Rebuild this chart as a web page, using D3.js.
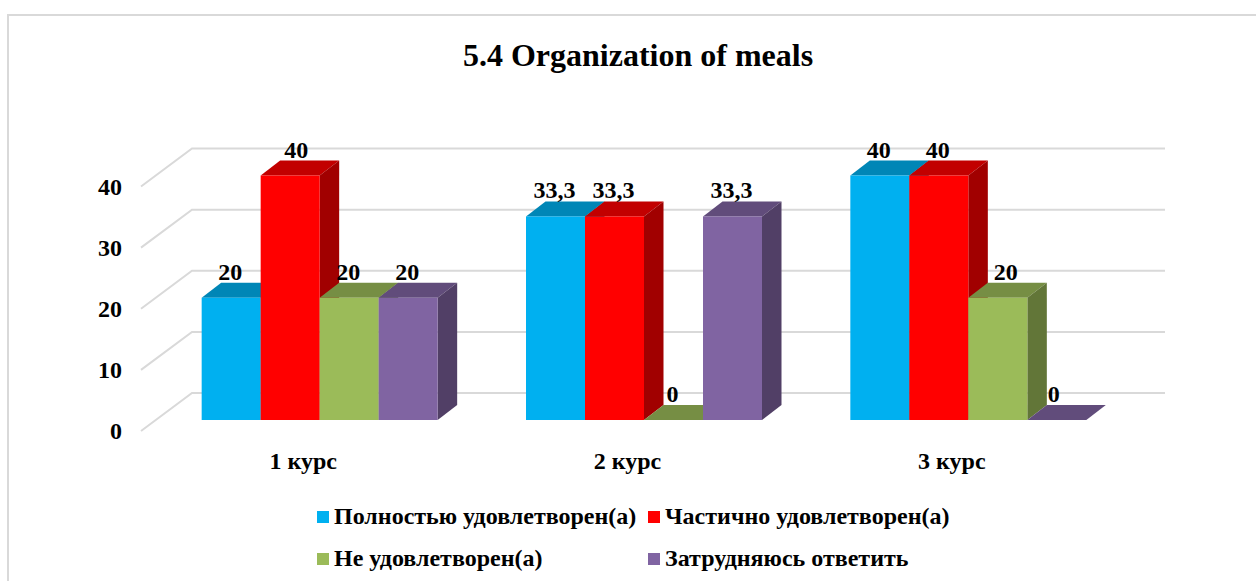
<!DOCTYPE html>
<meta charset="utf-8">
<style>
  body { margin: 0; background: #fff; }
  svg { display: block; }
  text { font-family: "Liberation Serif", serif; font-weight: bold; fill: #000; }
  .grid { fill: none; stroke: #d9d9d9; stroke-width: 2px; }
</style>

<body>
  <script src="https://cdn.jsdelivr.net/npm/d3@7"></script>
  <script>
    const titleText = "5.4 Organization of meals"
    const categories = ["1 курс", "2 курс", "3 курс"]
    const seriesNames = ["Полностью удовлетворен(а)", "Частично удовлетворен(а)", "Не удовлетворен(а)", "Затрудняюсь ответить"]
    const seriesColors = ["#00b0f0", "#ff0000", "#9bbb59", "#8064a2"]
    const fullySatisfied = [20, 33.3, 40]
    const partlySatisfied = [40, 33.3, 40]
    const notSatisfied = [20, 0, 20]
    const hardToSay = [20, 33.3, 0]
    const yTicks = [0, 10, 20, 30, 40]

    const seriesValues = [fullySatisfied, partlySatisfied, notSatisfied, hardToSay]

    const width = 1256, height = 581

    // the 3d box of the plot: walls are pushed back by wallDx/wallDy, bars sit inside it
    const wallDx = 51, wallDy = 38
    const barDx = 19.5, barDy = 15
    const barInsetX = 16.5, barInsetY = 11
    const groupWidth = 236

    const x0 = d3.scaleBand().domain(categories).range([141, 1114])
    const x1 = d3.scaleBand().domain(seriesNames).range([0, groupWidth])
    const y = d3.scaleLinear().domain([0, 40]).range([431, 186.5])

    const svg = d3.select("body").append("svg")
      .attr("width", width)
      .attr("height", height)

    // chart frame, it runs off the picture at right and bottom
    svg.append("path")
      .attr("class", "grid")
      .attr("d", `M8,${height} V15 H${width}`)

    svg.append("text")
      .attr("x", 638)
      .attr("y", 66)
      .attr("text-anchor", "middle")
      .style("font-size", "32px")
      .text(titleText)

    svg.append("g").selectAll("path")
      .data(yTicks)
      .join("path")
      .attr("class", "grid")
      .attr("d", d => `M141,${y(d)} L${141 + wallDx},${y(d) - wallDy} H1165`)

    const yAxis = svg.append("g")
      .attr("transform", "translate(122,0)")
      .call(d3.axisLeft(y).tickValues(yTicks).tickSize(0).tickPadding(0))
    yAxis.select(".domain").remove()
    yAxis.selectAll("text").style("font-size", "24px").attr("fill", "#000")

    const xAxis = svg.append("g")
      .attr("transform", "translate(0,451.5)")
      .call(d3.axisBottom(x0).tickSize(0).tickPadding(0))
    xAxis.select(".domain").remove()
    xAxis.selectAll("text").style("font-size", "24px").attr("fill", "#000")

    function shade(color, k) {
      const c = d3.rgb(color)
      return d3.rgb(c.r * k, c.g * k, c.b * k).formatHex()
    }

    const bars = []
    categories.forEach((cat, i) => {
      seriesNames.forEach((name, s) => {
        bars.push({ cat, name, s, value: seriesValues[s][i] })
      })
    })

    function barLeft(d) {
      return x0(d.cat) + (x0.bandwidth() - groupWidth) / 2 + barInsetX + x1(d.name)
    }

    // painted left to right so that each bar hides the side of the one before
    const bar = svg.append("g").selectAll("g")
      .data(bars)
      .join("g")

    bar.append("path")
      .attr("fill", d => shade(seriesColors[d.s], 0.76))
      .attr("d", d => {
        const l = barLeft(d), t = y(d.value) - barInsetY, w = x1.bandwidth()
        return `M${l},${t} l${barDx},${-barDy} h${w} l${-barDx},${barDy} Z`
      })

    bar.filter(d => d.value > 0).append("path")
      .attr("fill", d => shade(seriesColors[d.s], 0.63))
      .attr("d", d => {
        const r = barLeft(d) + x1.bandwidth(), t = y(d.value) - barInsetY, b = y(0) - barInsetY
        return `M${r},${t} l${barDx},${-barDy} V${b - barDy} l${-barDx},${barDy} Z`
      })

    bar.filter(d => d.value > 0).append("rect")
      .attr("fill", d => seriesColors[d.s])
      .attr("x", d => barLeft(d))
      .attr("y", d => y(d.value) - barInsetY)
      .attr("width", x1.bandwidth())
      .attr("height", d => y(0) - y(d.value))

    // a couple of labels were dragged sideways in the original
    const labelNudge = { "1 курс|1": 7, "3 курс|2": 9, "3 курс|3": -2 }

    svg.append("g").selectAll("text")
      .data(bars)
      .join("text")
      .attr("x", d => barLeft(d) + x1.bandwidth() / 2 - 1 + (labelNudge[d.cat + "|" + d.s] || 0))
      .attr("y", d => y(d.value) - barInsetY - 18)
      .attr("text-anchor", "middle")
      .style("font-size", "24px")
      .text(d => String(d.value).replace(".", ","))

    const legendCols = [317, 648], legendRows = [511, 553]
    const legend = svg.append("g").selectAll("g")
      .data(seriesNames)
      .join("g")
      .attr("transform", (d, i) => `translate(${legendCols[i % 2]},${legendRows[Math.floor(i / 2)]})`)

    legend.append("rect")
      .attr("width", 12)
      .attr("height", 12)
      .attr("fill", (d, i) => seriesColors[i])

    legend.append("text")
      .attr("x", 17)
      .attr("y", 13)
      .style("font-size", "24px")
      .text(d => d)
  </script>
</body>
